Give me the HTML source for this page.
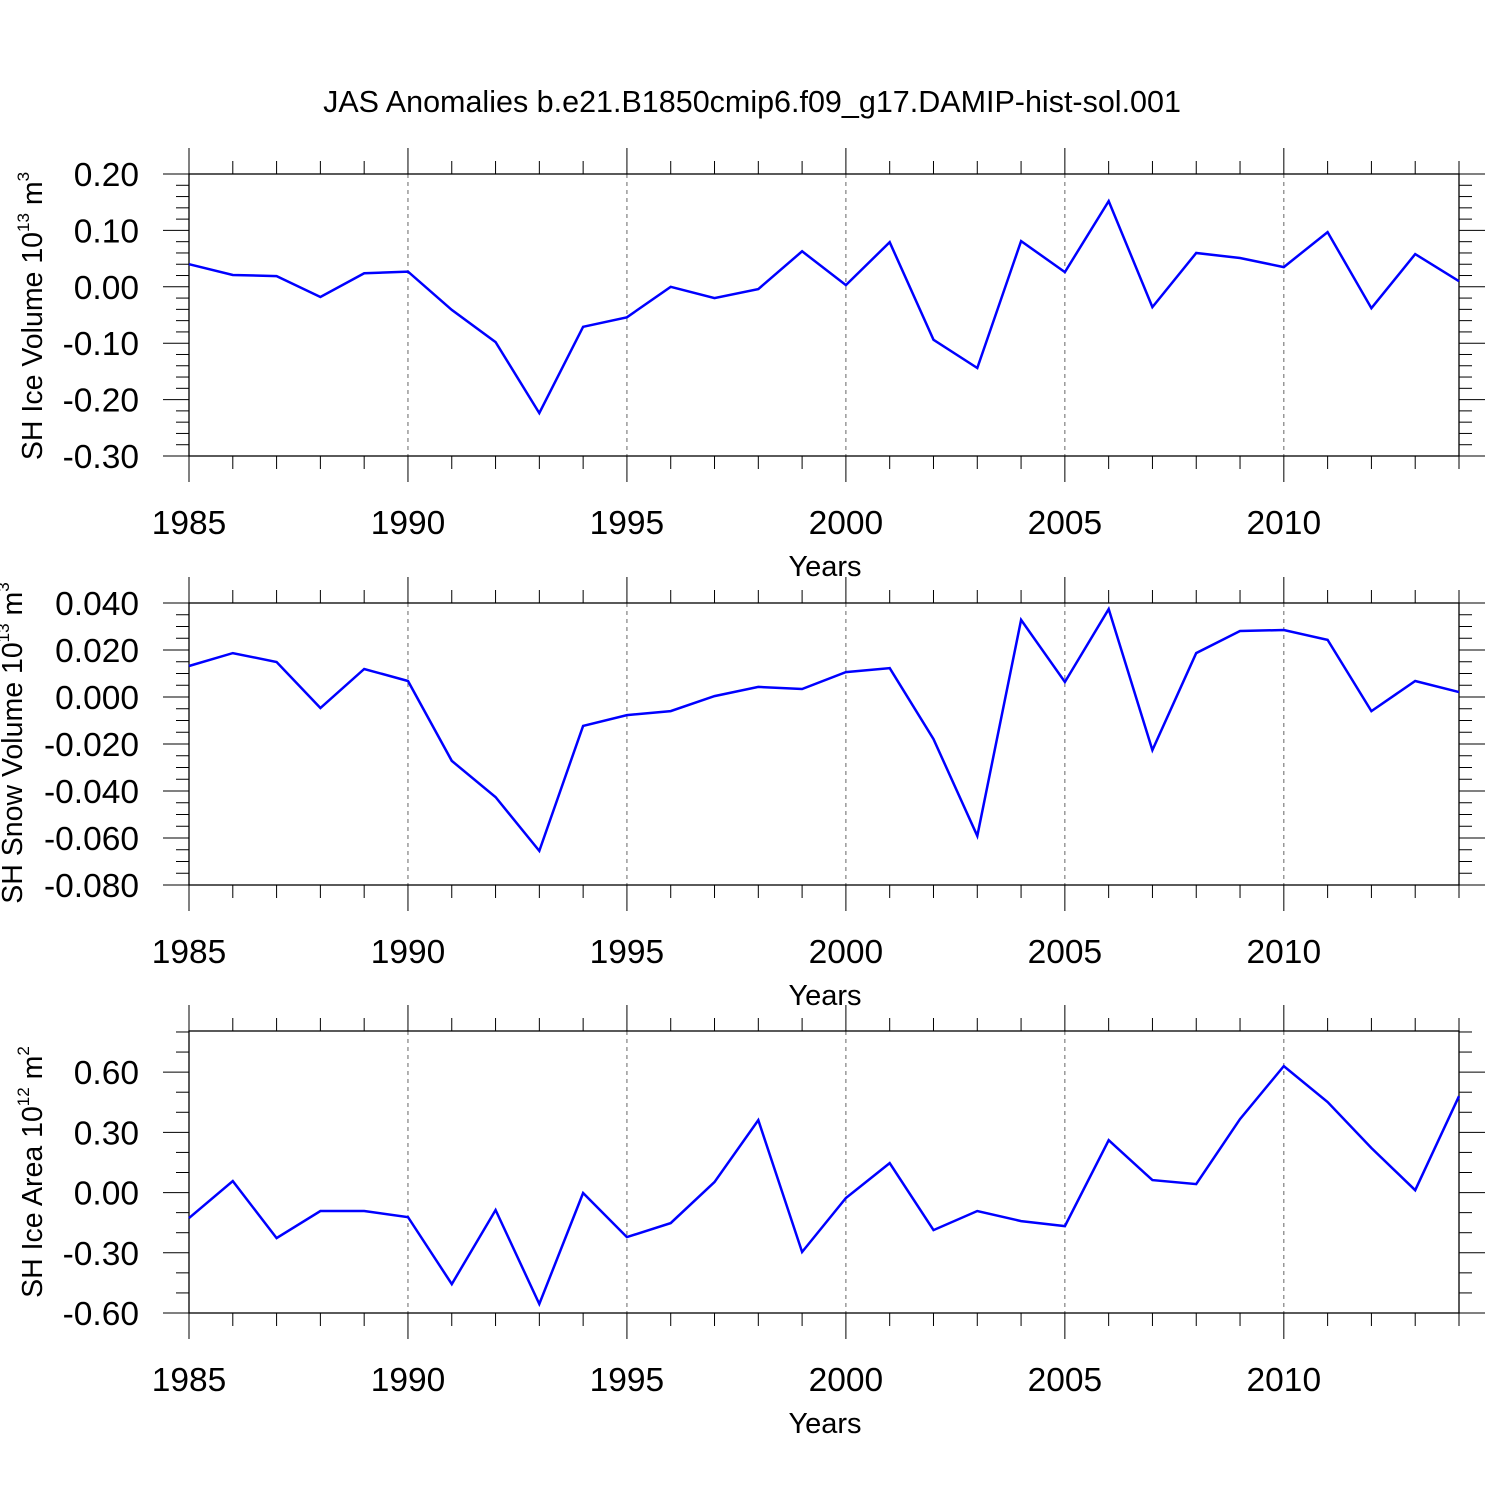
<!DOCTYPE html>
<html><head><meta charset="utf-8"><style>
body{margin:0;background:#fff}
svg{display:block;font-family:"Liberation Sans",sans-serif}
</style></head><body>
<svg id="c" width="1500" height="1500" xmlns="http://www.w3.org/2000/svg">
<text x="752" y="112" text-anchor="middle" font-size="30.5">JAS Anomalies b.e21.B1850cmip6.f09_g17.DAMIP-hist-sol.001</text>
</svg>
<script>
const years = [1985,1986,1987,1988,1989,1990,1991,1992,1993,1994,1995,1996,1997,1998,1999,2000,2001,2002,2003,2004,2005,2006,2007,2008,2009,2010,2011,2012,2013,2014];
const iceVolume = [0.040,0.021,0.019,-0.018,0.024,0.027,-0.041,-0.098,-0.224,-0.071,-0.054,0.000,-0.020,-0.004,0.063,0.003,0.079,-0.094,-0.144,0.081,0.026,0.152,-0.036,0.060,0.051,0.035,0.097,-0.038,0.058,0.010];
const snowVolume = [0.0132,0.0187,0.0149,-0.0047,0.0119,0.0068,-0.0272,-0.0426,-0.0655,-0.0123,-0.0077,-0.0060,0.0004,0.0043,0.0034,0.0106,0.0123,-0.0179,-0.0591,0.0328,0.0064,0.0374,-0.0226,0.0187,0.0281,0.0285,0.0243,-0.0060,0.0068,0.0021];
const iceArea = [-0.127,0.057,-0.227,-0.092,-0.092,-0.122,-0.456,-0.087,-0.555,-0.002,-0.222,-0.152,0.052,0.361,-0.296,-0.027,0.147,-0.187,-0.092,-0.142,-0.167,0.261,0.062,0.042,0.366,0.630,0.451,0.222,0.012,0.480];
const xTickLabels = ["1985","1990","1995","2000","2005","2010"];
const iceVolTicks = ["0.20","0.10","0.00","-0.10","-0.20","-0.30"];
const snowTicks = ["0.040","0.020","0.000","-0.020","-0.040","-0.060","-0.080"];
const areaTicks = ["0.60","0.30","0.00","-0.30","-0.60"];

const NS="http://www.w3.org/2000/svg";
const svg=document.getElementById('c');
function mk(tag,attrs,parent){const e=document.createElementNS(NS,tag);for(const k in attrs)e.setAttribute(k,attrs[k]);(parent||svg).appendChild(e);return e;}
const X0=189,X1=1459;
function xs(y){return X0+(y-1985)/(2014-1985)*(X1-X0);}

function panel(cfg){
  const g=mk('g',{});
  
  
  const top=cfg.top,bot=cfg.bot;
  const ys=v=>bot-(v-cfg.ymin)/(cfg.ymax-cfg.ymin)*(bot-top);
  for(let yr=1990;yr<=2010;yr+=5){
    const l=mk('line',{x1:xs(yr),x2:xs(yr),y1:top,y2:bot,stroke:'#666','stroke-width':1,'stroke-dasharray':'4,4'},g);
    
    
  }
  for(let yr=1985;yr<=2014;yr++){
    const major=(yr%5===0);const len=major?26:13;const x=xs(yr);
    mk('line',{x1:x,x2:x,y1:bot,y2:bot+len,stroke:'#000','stroke-width':1},g);
    mk('line',{x1:x,x2:x,y1:top,y2:top-len,stroke:'#000','stroke-width':1},g);
  }
  const n=Math.round((cfg.ymax-cfg.ymin)/cfg.minor);
  for(let i=0;i<=n;i++){
    const v=cfg.ymin+i*cfg.minor;const y=ys(v);
    const isMajor=cfg.majors.some(m=>Math.abs(m-v)<cfg.minor/10);
    const len=isMajor?26:13;
    mk('line',{x1:X0-len,x2:X0,y1:y,y2:y,stroke:'#000','stroke-width':1},g);
    mk('line',{x1:X1,x2:X1+len,y1:y,y2:y,stroke:'#000','stroke-width':1},g);
  }
  cfg.labels.forEach((lab,i)=>{
    const t=mk('text',{x:139,y:ys(parseFloat(lab))+12,'text-anchor':'end','font-size':33.5},g);
    t.textContent=lab;
    
    
  });
  const r=mk('rect',{x:X0,y:top,width:X1-X0,height:bot-top,fill:'none',stroke:'#000','stroke-width':1.3},g);
  
  
  xTickLabels.forEach(lab=>{
    const t=mk('text',{x:xs(+lab),y:bot+78,'text-anchor':'middle','font-size':33.5},g);
    t.textContent=lab;
    
    
  });
  const xt=mk('text',{x:825,y:bot+120,'text-anchor':'middle','font-size':29},g);
  xt.textContent='Years';
  
  
  const yt=mk('text',{transform:`translate(${cfg.ytx},${cfg.ytc}) rotate(-90)`,'text-anchor':'middle','font-size':28.5},g);
  yt.innerHTML=cfg.ytitle;
  
  
  const pts=years.map((yr,i)=>xs(yr).toFixed(1)+','+ys(cfg.data[i]).toFixed(1)).join(' ');
  const pl=mk('polyline',{points:pts,fill:'none',stroke:'#0000ff','stroke-width':2.5,'stroke-linejoin':'miter'},g);
  
  
}
panel({name:'ice-volume-panel',top:174,bot:456,ymin:-0.3,ymax:0.2,minor:0.02,majors:[-0.3,-0.2,-0.1,0,0.1,0.2],labels:iceVolTicks,data:iceVolume,ytc:316,ytx:42,
  ytitle:'SH Ice Volume 10<tspan dy="-13" font-size="17">13</tspan><tspan dy="13"> m</tspan><tspan dy="-13" font-size="17">3</tspan>'});
panel({name:'snow-volume-panel',top:603,bot:885,ymin:-0.08,ymax:0.04,minor:0.005,majors:[-0.08,-0.06,-0.04,-0.02,0,0.02,0.04],labels:snowTicks,data:snowVolume,ytc:743,ytx:22,
  ytitle:'SH Snow Volume 10<tspan dy="-13" font-size="17">13</tspan><tspan dy="13"> m</tspan><tspan dy="-13" font-size="17">3</tspan>'});
panel({name:'ice-area-panel',top:1031,bot:1313,ymin:-0.6,ymax:0.8049,minor:0.1,majors:[-0.6,-0.3,0,0.3,0.6],labels:areaTicks,data:iceArea,ytc:1172,ytx:42,
  ytitle:'SH Ice Area 10<tspan dy="-13" font-size="17">12</tspan><tspan dy="13"> m</tspan><tspan dy="-13" font-size="17">2</tspan>'});
</script>
</body></html>
